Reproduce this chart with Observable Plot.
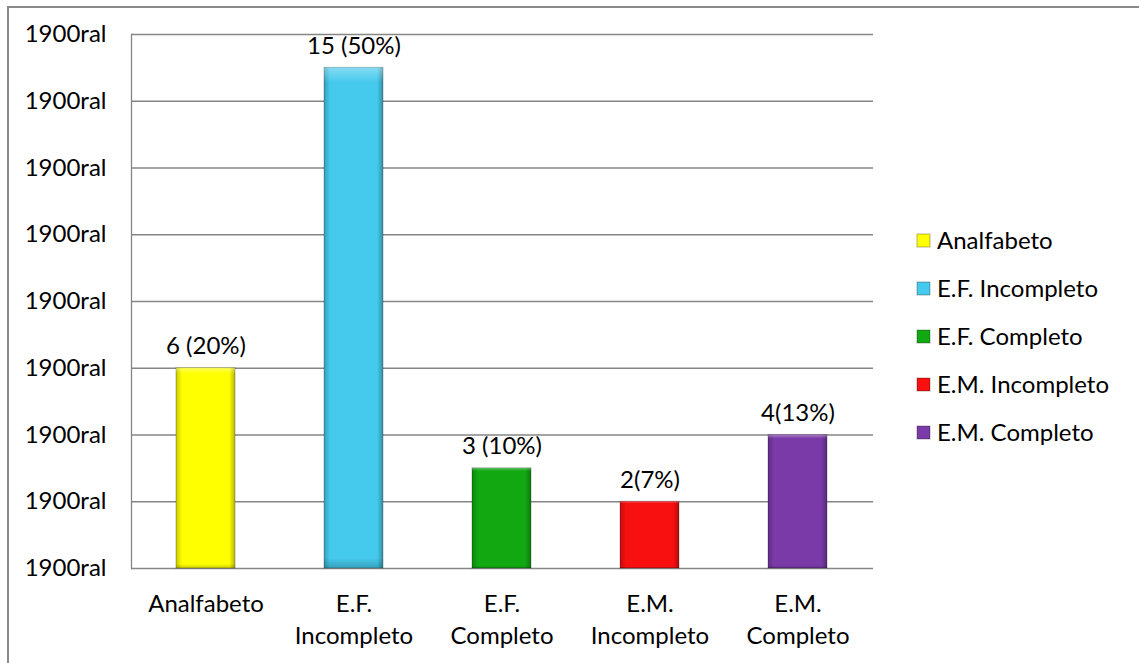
<!DOCTYPE html>
<html>
<head>
<meta charset="utf-8">
<script src="https://cdn.jsdelivr.net/npm/d3@7"></script>
<script src="https://cdn.jsdelivr.net/npm/@observablehq/plot@0.6"></script>
<style>
  html, body { margin: 0; padding: 0; background: #fff; overflow: hidden; }
  #wrap { position: relative; width: 1139px; height: 663px; font-family: Lato, sans-serif; }
  #border { position: absolute; left: 7px; top: 6px; width: 1200px; height: 700px; border: 2px solid #8a8a8a; box-sizing: border-box; pointer-events: none; }
  #chart { position: absolute; left: 0; top: 0; }
  #legend { position: absolute; left: 917px; top: 216px; }
  #legend .lg-swatch { display: flex !important; align-items: center; height: 48px; margin: 0 !important; padding: 0 !important; font: 24px Lato, sans-serif; color: #000; line-height: 48px; }
  #legend .lg-swatch svg { margin-right: 7px !important; stroke: rgba(0,0,0,0.3); }
</style>
</head>
<body>
<div id="wrap">
  <div id="chart"></div>
  <div id="legend"></div>
  <div id="border"></div>
</div>
<script>
const categories = ["Analfabeto", "E.F. Incompleto", "E.F. Completo", "E.M. Incompleto", "E.M. Completo"];
const counts = [6, 15, 3, 2, 4];
const barLabels = ["6 (20%)", "15 (50%)", "3 (10%)", "2(7%)", "4(13%)"];
const colors = ["#ffff00", "#45c9ec", "#12a812", "#f80f0f", "#7a3aa8"];
const yTicks = [0, 2, 4, 6, 8, 10, 12, 14, 16];
const yTickLabel = "1900ral";

const data = categories.map((c, i) => ({cat: c, value: counts[i], label: barLabels[i]}));

const chart = Plot.plot({
  width: 1139,
  height: 663,
  marginLeft: 131,
  marginRight: 266,
  marginTop: 34,
  marginBottom: 95,
  style: {fontFamily: "Lato, sans-serif", fontSize: "24px", color: "#000", background: "transparent"},
  x: {domain: categories, paddingInner: 0.6, paddingOuter: 0.3, label: null},
  y: {domain: [0, 16], label: null},
  color: {domain: categories, range: colors},
  marks: [
    Plot.gridY(yTicks, {stroke: "#868686", strokeOpacity: 1, strokeWidth: 1.3}),
    Plot.frame({anchor: "left", stroke: "#868686", strokeWidth: 1.3}),
    Plot.barY(data, {x: "cat", y: "value", fill: "cat", stroke: "#000", strokeOpacity: 0.25, strokeWidth: 1}),
    Plot.barY(data, {x: "cat", y: "value", fill: "url(#bevelH)"}),
    Plot.barY(data, {x: "cat", y: "value", fill: "url(#bevelV)"}),
    Plot.text(data, {x: "cat", y: "value", text: "label", lineAnchor: "bottom", dy: -14, fontSize: 24, fill: "#000"}),
    Plot.axisY({ticks: yTicks, tickSize: 0, tickPadding: 25, tickFormat: () => yTickLabel, fontSize: 24}),
    Plot.axisX({tickSize: 0, tickPadding: 21, lineAnchor: "top", lineHeight: 1.33, fontSize: 24,
      tickFormat: d => d.replace(". ", ".\n")})
  ]
});

// gradient defs for the bevelled bar look
const ns = "http://www.w3.org/2000/svg";
const defs = document.createElementNS(ns, "defs");
defs.innerHTML = `
  <linearGradient id="bevelH" x1="0" x2="1" y1="0" y2="0">
    <stop offset="0" stop-color="#000" stop-opacity="0.22"/>
    <stop offset="0.1" stop-color="#000" stop-opacity="0"/>
    <stop offset="0.9" stop-color="#000" stop-opacity="0"/>
    <stop offset="1" stop-color="#000" stop-opacity="0.28"/>
  </linearGradient>
  <linearGradient id="bevelV" x1="0" x2="0" y1="0" y2="1">
    <stop offset="0" stop-color="#fff" stop-opacity="0.35"/>
    <stop offset="0.03" stop-color="#fff" stop-opacity="0"/>
    <stop offset="0.98" stop-color="#000" stop-opacity="0"/>
    <stop offset="1" stop-color="#000" stop-opacity="0.2"/>
  </linearGradient>`;
chart.insertBefore(defs, chart.firstChild);
document.getElementById("chart").appendChild(chart);

const legend = Plot.legend({
  color: {domain: categories, range: colors},
  legend: "swatches",
  columns: 1,
  swatchSize: 13,
  className: "lg",
  style: {fontFamily: "Lato, sans-serif", fontSize: "24px", color: "#000"}
});
document.getElementById("legend").appendChild(legend);
</script>
</body>
</html>
